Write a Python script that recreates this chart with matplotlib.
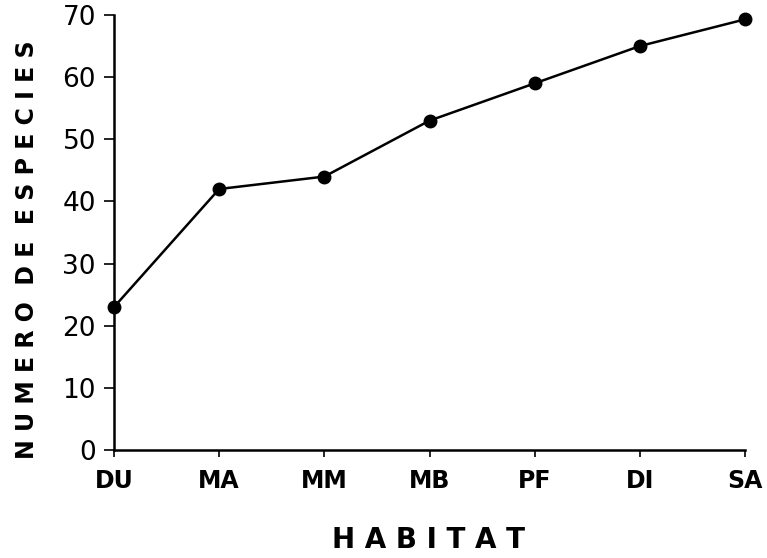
import matplotlib
matplotlib.use("Agg")
import matplotlib.pyplot as plt

habitats = ["DU", "MA", "MM", "MB", "PF", "DI", "SA"]
especies = [23, 42, 44, 53, 59, 65, 69.3]
yticks = [0, 10, 20, 30, 40, 50, 60, 70]

fig = plt.figure(figsize=(7.67, 5.58), dpi=100)
ax = fig.add_axes([114/767, 1-450/558, (745-114)/767, (450-15)/558])
x = list(range(len(habitats)))
ax.plot(x, especies, color="black", lw=1.8, marker="o", ms=9, clip_on=False, zorder=3)
ax.set_xlim(0, len(habitats)-1)
ax.set_ylim(0, 70)
ax.set_xticks(x)
ax.set_xticklabels(habitats, family="DejaVu Sans", fontweight="bold", fontsize=17)
ax.set_yticks(yticks)
ax.set_yticklabels([str(v) for v in yticks], family="DejaVu Sans", fontsize=19)
for s in ["top", "right"]:
    ax.spines[s].set_visible(False)
for s in ["left", "bottom"]:
    ax.spines[s].set_linewidth(1.8)
ax.tick_params(axis="y", direction="out", length=7, width=1.2, pad=6)
ax.tick_params(axis="x", direction="out", length=5, width=1.2, pad=9)

fig.text(428/767, 1-540/558, "H A B I T A T", ha="center", va="center",
         fontsize=20, fontweight="bold", family="DejaVu Sans")
fig.text(27/767, 1-250/558, "N U M E R O  D E  E S P E C I E S", ha="center", va="center",
         rotation=90, fontsize=17, fontweight="bold", family="DejaVu Sans")

fig.savefig("out.png", dpi=100)
